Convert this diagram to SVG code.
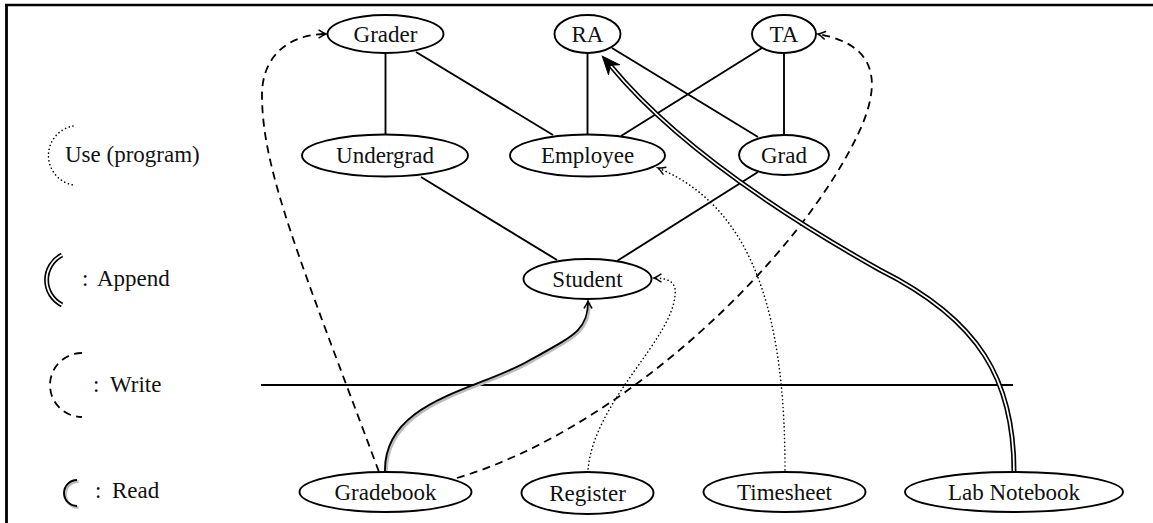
<svg xmlns="http://www.w3.org/2000/svg" width="1153" height="523" viewBox="0 0 1153 523">
<style>
text { font-family: "Liberation Serif", "Times New Roman", serif; font-size: 23px; fill: #111; }
.node ellipse { fill: #fff; stroke: #000; stroke-width: 1.9; }
.node text { text-anchor: middle; }
.solid { fill: none; stroke: #000; stroke-width: 1.9; }
.dash { fill: none; stroke: #000; stroke-width: 1.8; stroke-dasharray: 8 5.5; }
.dot { fill: none; stroke: #000; stroke-width: 1.6; stroke-dasharray: 0.1 3.8; stroke-linecap: round; }
.dblout { fill: none; stroke: #000; stroke-width: 5; }
.dblin { fill: none; stroke: #fff; stroke-width: 1.7; }
.shadow { fill: none; stroke: #bdbdbd; stroke-width: 2.8; }
</style>
<defs>
<marker id="arr" markerUnits="userSpaceOnUse" markerWidth="14" markerHeight="12" viewBox="-8 -6 10 12" refX="0" refY="0" orient="auto" overflow="visible">
<path d="M -7 -3.8 Q -2.5 -0.8 0 0 Q -2.5 0.8 -7 3.8" fill="none" stroke="#000" stroke-width="1.5" stroke-dasharray="none" stroke-linecap="round"/>
</marker>
<marker id="bigarr" markerUnits="userSpaceOnUse" markerWidth="24" markerHeight="20" viewBox="-20 -10 22 20" refX="0" refY="0" orient="auto" overflow="visible">
<path d="M 1 0 L -17 -7.5 L -11 0 L -17 7.5 Z" fill="#000" stroke="#000" stroke-width="1" stroke-linejoin="miter"/>
</marker>
</defs>

<g id="frame">
<line x1="5" y1="5" x2="1153" y2="5" stroke="#000" stroke-width="2.4"/>
<line x1="6.5" y1="4" x2="6.5" y2="523" stroke="#000" stroke-width="2.8"/>
</g>

<g id="connectors">
<line class="solid" x1="385.5" y1="53" x2="385.5" y2="134"/>
<line class="solid" x1="416" y1="52" x2="553" y2="135"/>
<line class="solid" x1="587.5" y1="53" x2="587.5" y2="134"/>
<line class="solid" x1="612" y1="48" x2="758" y2="137"/>
<line class="solid" x1="762" y1="48" x2="621" y2="136"/>
<line class="solid" x1="784" y1="53" x2="784" y2="135"/>
<line class="solid" x1="421" y1="177" x2="557" y2="260"/>
<line class="solid" x1="758" y1="172" x2="617" y2="261"/>
<line class="solid" x1="261" y1="385" x2="1013" y2="385"/>

<path class="dash" d="M 379 472 C 300 260, 262 170, 262 95 C 262 55, 290 34, 326 34" marker-end="url(#arr)"/>
<path class="dash" d="M 457 478 C 620 430, 800 260, 860 130 C 880 85, 880 45, 818 34" marker-end="url(#arr)"/>

<path class="dot" d="M 588 469 C 595 400, 672 340, 675 295 C 677 282, 668 278, 654 278" marker-end="url(#arr)"/>
<path class="dot" d="M 785 470 C 785 330, 760 210, 658 168" marker-end="url(#arr)"/>

<path class="shadow" d="M 386.5 473.5 C 384.5 401.5, 481.5 391.5, 531.5 361.5 C 576.5 336.5, 589.5 331.5, 589.5 302.5"/>
<path class="solid" d="M 385 472 C 383 400, 480 390, 530 360 C 575 335, 588 330, 588 301" marker-end="url(#arr)"/>

<path class="dblout" d="M 1014 472 C 1014 380, 980 320, 880 270 C 800 225, 680 150, 610 65"/>
<path class="dblin" d="M 1014 472 C 1014 380, 980 320, 880 270 C 800 225, 680 150, 610 65"/>
<path fill="none" stroke="none" d="M 610 65 L 603 57" marker-end="url(#bigarr)"/>
</g>

<g id="n-grader" class="node"><ellipse cx="385.5" cy="34" rx="58" ry="19"/><text x="385.5" y="41.5">Grader</text></g>
<g id="n-ra" class="node"><ellipse cx="587.5" cy="34" rx="33" ry="19"/><text x="587.5" y="41.5">RA</text></g>
<g id="n-ta" class="node"><ellipse cx="784" cy="34" rx="32" ry="19"/><text x="784" y="41.5">TA</text></g>
<g id="n-undergrad" class="node"><ellipse cx="385" cy="155.5" rx="83" ry="21"/><text x="385" y="163">Undergrad</text></g>
<g id="n-employee" class="node"><ellipse cx="587.5" cy="155.5" rx="77.5" ry="21"/><text x="587.5" y="163">Employee</text></g>
<g id="n-grad" class="node"><ellipse cx="784" cy="155" rx="45" ry="20"/><text x="784" y="162.5">Grad</text></g>
<g id="n-student" class="node"><ellipse cx="587.5" cy="279" rx="64" ry="20"/><text x="587.5" y="286.5">Student</text></g>
<g id="n-gradebook" class="node"><ellipse cx="385.5" cy="492" rx="86" ry="20"/><text x="385.5" y="499.5">Gradebook</text></g>
<g id="n-register" class="node"><ellipse cx="587.5" cy="493" rx="66" ry="21"/><text x="587.5" y="500.5">Register</text></g>
<g id="n-timesheet" class="node"><ellipse cx="784.5" cy="492" rx="81" ry="20"/><text x="784.5" y="499.5">Timesheet</text></g>
<g id="n-labnotebook" class="node"><ellipse cx="1014" cy="492" rx="109" ry="20"/><text x="1014" y="499.5">Lab Notebook</text></g>

<g id="legend">
<path class="dot" d="M 73 126 A 30 30 0 0 0 73 185"/>
<text x="65" y="162">Use (program)</text>
<path class="dblout" d="M 62 255 A 28 28 0 0 0 62 305"/>
<path class="dblin" d="M 62 255 A 28 28 0 0 0 62 305"/>
<text x="82" y="286">:</text><text x="97" y="286">Append</text>
<path class="dash" d="M 82 353 A 32 32 0 0 0 82 417"/>
<text x="93" y="392">:</text><text x="110" y="392">Write</text>
<path class="shadow" d="M 78.5 481.5 A 13 13 0 0 0 78.5 507.5"/>
<path class="solid" d="M 77 480 A 13 13 0 0 0 77 506"/>
<text x="95" y="498">:</text><text x="112" y="498">Read</text>
</g>
</svg>
